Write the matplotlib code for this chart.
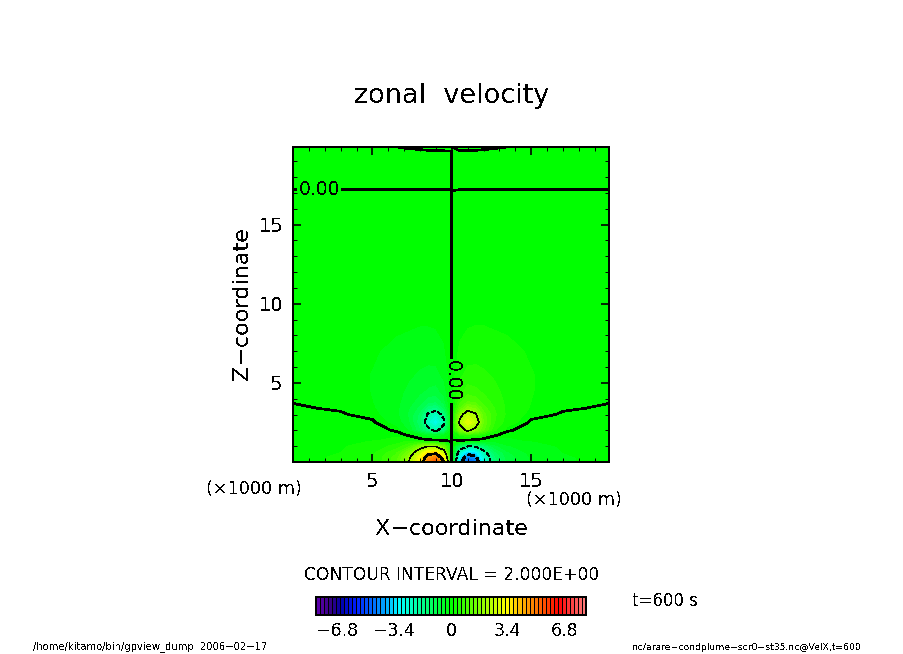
import numpy as np
import matplotlib
matplotlib.use("Agg")
import matplotlib.pyplot as plt
from matplotlib.colors import LinearSegmentedColormap, BoundaryNorm

# Rendu sans anticrenelage, comme l'image d'origine
plt.rcParams['text.antialiased'] = False
plt.rcParams['lines.antialiased'] = False
plt.rcParams['patch.antialiased'] = False
plt.rcParams['font.family'] = 'DejaVu Sans'

# Grille (km)
x_km = [0, 3, 5, 6.5, 7.3, 8, 8.5, 9, 9.5, 10, 10.5, 11, 11.5, 12, 12.7, 13.5, 15, 17, 19.9]
z_km = [0, 0.3, 0.6, 1.0, 1.3, 1.4, 1.7, 2.0, 2.5, 3.0, 3.4, 3.8, 4.5, 5.5, 7, 9, 12, 16, 17.15, 17.25, 19, 19.65, 19.9]

# Vitesse zonale estimee (une ligne par niveau z)
velx = [
    [.05, .15, .35, 1.0, 2.0, 3.4, 4.9, 5.5, 4.1, 0, -3.6, -4.9, -4.6, -2.9, -1.5, -.8, -.35, -.15, -.05],
    [.05, .15, .35, .95, 1.85, 3.2, 4.5, 4.9, 3.4, 0, -3.3, -4.5, -4.2, -2.7, -1.4, -.75, -.33, -.15, -.05],
    [.04, .12, .3, .8, 1.5, 2.6, 3.6, 3.7, 2.5, 0, -2.6, -3.7, -3.4, -2.3, -1.2, -.65, -.28, -.12, -.04],
    [.03, .1, .2, .45, .8, 1.6, 1.95, 1.9, 1.2, 0, -1.2, -1.95, -1.9, -1.4, -.7, -.4, -.2, -.1, -.03],
    [.02, .07, .13, .25, .4, .45, .25, .15, .1, 0, -.1, -.15, -.2, -.4, -.35, -.22, -.13, -.07, -.02],
    [.02, .05, .1, .15, .2, .1, .02, -.02, -.05, 0, .05, .02, -.02, -.1, -.2, -.15, -.1, -.05, -.02],
    [.02, .05, .1, .1, -.03, -.3, -.5, -.55, -.4, 0, .35, .55, .5, .3, .03, -.1, -.1, -.05, -.02],
    [.015, .04, .1, -.03, -.4, -1.1, -1.7, -2.2, -1.5, 0, 1.5, 2.2, 1.7, 1.1, .4, .03, -.1, -.04, -.015],
    [.01, .03, .03, -.22, -.6, -1.3, -2.5, -3.0, -2.2, 0, 2.2, 3.0, 2.5, 1.3, .6, .22, -.03, -.03, -.01],
    [.01, .015, -.05, -.3, -.65, -1.2, -2.1, -2.5, -1.7, 0, 1.7, 2.5, 2.1, 1.2, .65, .3, .05, -.015, -.01],
    [.015, -.015, -.1, -.3, -.6, -.95, -1.5, -1.7, -1.1, 0, 1.1, 1.7, 1.5, .95, .6, .3, .1, .015, -.015],
    [-.005, -.02, -.12, -.3, -.5, -.75, -1.0, -1.1, -.75, 0, .75, 1.1, 1.0, .75, .5, .3, .12, .02, .005],
    [-.01, -.03, -.13, -.28, -.42, -.55, -.65, -.7, -.5, 0, .5, .7, .65, .55, .42, .28, .13, .03, .01],
    [-.01, -.04, -.13, -.25, -.33, -.4, -.45, -.45, -.3, 0, .3, .45, .45, .4, .33, .25, .13, .04, .01],
    [-.01, -.03, -.1, -.17, -.2, -.25, -.25, -.22, -.15, 0, .15, .22, .25, .25, .2, .17, .1, .03, .01],
    [-.005, -.02, -.05, -.07, -.08, -.09, -.09, -.08, -.05, 0, .05, .08, .09, .09, .08, .07, .05, .02, .005],
    [-.004, -.01, -.02, -.02, -.02, -.02, -.02, -.02, -.01, 0, .01, .02, .02, .02, .02, .02, .02, .01, .004],
    [-.002, -.004, -.005, -.005, -.005, -.005, -.005, -.005, -.004, 0, .004, .005, .005, .005, .005, .005, .005, .004, .002],
    [-.001, -.001, -.001, -.001, -.001, -.001, -.001, -.001, -.001, 0, .001, .001, .001, .001, .001, .001, .001, .001, .001],
    [.001, .001, .001, .001, .001, .001, .001, .001, .001, 0, -.001, -.001, -.001, -.001, -.001, -.001, -.001, -.001, -.001],
    [.01, .01, .01, .01, .01, .01, .01, .01, .008, 0, -.008, -.01, -.01, -.01, -.01, -.01, -.01, -.01, -.01],
    [.006, .006, .005, .004, .003, .002, .001, .0005, .0002, 0, -.0002, -.0005, -.001, -.002, -.003, -.004, -.005, -.006, -.006],
    [.005, .005, .002, .0002, -.002, -.004, -.005, -.006, -.006, 0, .006, .006, .005, .004, .002, -.0002, -.002, -.005, -.005],
]

# Palette de la barre de couleurs
color_vals = [-8.1, -7.3, -6.7, -5.8, -4.6, -3.7, -3.2, -1.9, 0, 2.0, 3.4, 4.4, 5.9, 6.5, 7.1, 8.1]
color_rgb = [(90, 0, 170), (50, 0, 130), (0, 0, 170), (0, 30, 255), (0, 120, 255), (0, 200, 255),
             (0, 255, 255), (0, 255, 150), (0, 255, 0), (150, 255, 0), (255, 255, 0), (255, 170, 0),
             (255, 60, 0), (255, 0, 0), (255, 50, 50), (255, 120, 120)]
n_boxes = 67
v_min, v_max = -8.1, 8.1

contour_levels = [-4, -2, 2, 4]
cbar_ticks = [-6.8, -3.4, 0, 3.4, 6.8]
cbar_labels = ['\u22126.8', '\u22123.4', '0', '3.4', '6.8']

W, H = 904, 654


# Conversion pixels de l'image -> coordonnees de la figure
def fx(px):
    return px / W


def fy(py):
    return 1 - py / H


def add_axes_px(left, top, right, bottom):
    return fig.add_axes([fx(left), fy(bottom), (right - left) / W, (bottom - top) / H])


def label(px, py, txt, size, **kw):
    fig.text(fx(px), fy(py), txt, fontsize=size, ha='center', va='center', **kw)


cols = [(v, tuple(c / 255 for c in rgb)) for v, rgb in zip(color_vals, color_rgb)]
cmap = LinearSegmentedColormap.from_list('gt', [((v - v_min) / (v_max - v_min), c) for v, c in cols], N=n_boxes)
box_edges = np.linspace(v_min, v_max, n_boxes + 1)
norm = BoundaryNorm(box_edges, n_boxes)

fig = plt.figure(figsize=(W / 100, H / 100), dpi=100, facecolor='white')

# Champ principal
ax = add_axes_px(293, 147, 609, 462)
ax.contourf(x_km, z_km, velx, levels=box_edges, cmap=cmap, norm=norm)
ax.contour(x_km, z_km, velx, levels=contour_levels, colors='k',
           linewidths=[1.2, 0.4, 0.4, 1.2],
           linestyles=[(0, (4, 2)), (0, (8, 5)), '-', '-'])
ax.set_xlim(0, 19.9)
ax.set_ylim(0, 19.9)

# Le niveau zero est trace a part pour ses etiquettes
cs0 = ax.contour(x_km, z_km, velx, levels=[0], colors='k', linewidths=1.2, linestyles='-')
texts = ax.clabel(cs0, manual=[(10, 5.13), (1.64, 17.2)], fmt='%.2f', fontsize=13.5, inline=True, inline_spacing=2)
for t in texts:
    if t.get_position()[0] > 5:
        t.set_rotation(270)
    else:
        t.set_rotation(0)

ax.set_xticks([5, 10, 15])
ax.set_yticks([5, 10, 15])
ax.set_xticks(range(1, 20), minor=True)
ax.set_yticks(range(1, 20), minor=True)
ax.tick_params(which='major', direction='in', length=6, width=1.2, top=True, right=True, labelsize=14, pad=7)
ax.tick_params(which='minor', direction='in', length=3, width=0.7, top=True, right=True)
for s in ax.spines.values():
    s.set_linewidth(1.4)

# Barre de couleurs
cax = add_axes_px(316, 597, 586, 615)
box_mid = (box_edges[:-1] + box_edges[1:]) / 2
cax.bar(box_mid, 1, width=box_edges[1] - box_edges[0], color=cmap(norm(box_mid)), edgecolor='k', linewidth=0.4)
cax.set_xlim(v_min, v_max)
cax.set_ylim(0, 1)
cax.set_yticks([])
cax.set_xticks(cbar_ticks)
cax.set_xticklabels(cbar_labels)
cax.tick_params(length=0, labelsize=12.5, pad=5)
for s in cax.spines.values():
    s.set_linewidth(1.4)

# Textes
label(452, 96, 'zonal  velocity', 19.5)
label(254, 489, '(\u00d71000 m)', 12.7)
label(574, 500, '(\u00d71000 m)', 12.7)
label(452, 529, 'X\u2212coordinate', 16)
label(242, 304, 'Z\u2212coordinate', 16, rotation=90)
label(452, 575, 'CONTOUR INTERVAL = 2.000E+00', 12.3)
label(665, 601, 't=600 s', 12)
label(150, 647, '/home/kitamo/bin/gpview_dump  2006\u221202\u221217', 7.2)
label(747, 647, 'nc/arare\u2212condplume\u2212scr0\u2212st35.nc@VelX,t=600', 6.7)

fig.savefig('out.png', dpi=100)
